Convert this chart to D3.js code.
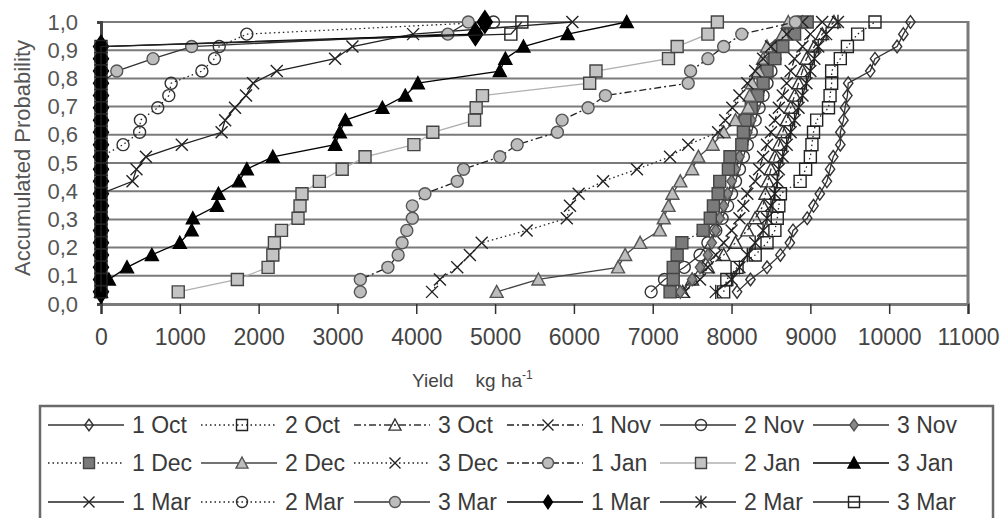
<!DOCTYPE html>
<html><head><meta charset="utf-8">
<script src="https://cdn.jsdelivr.net/npm/d3@7"></script>
<style>body{margin:0;background:#fff;} svg{display:block;font-family:"Liberation Sans",Arial,sans-serif;}</style>
</head><body><svg id="c" width="1008" height="518"></svg>
<script>
// ---------- data ----------
const categories = ["1 Oct","2 Oct","3 Oct","1 Nov","2 Nov","3 Nov","1 Dec","2 Dec","3 Dec","1 Jan","2 Jan","3 Jan","1 Mar","2 Mar","3 Mar","1 Mar","2 Mar","3 Mar"];
const probabilities = [0.043,0.087,0.130,0.174,0.217,0.261,0.304,0.348,0.391,0.435,0.478,0.522,0.565,0.609,0.652,0.696,0.739,0.783,0.826,0.870,0.913,0.957,1.000];
const xTicks = [0,1000,2000,3000,4000,5000,6000,7000,8000,9000,10000,11000];
const yTicks = [0,0.1,0.2,0.3,0.4,0.5,0.6,0.7,0.8,0.9,1.0];

const yield1Oct = [8070,8240,8450,8620,8740,8780,8960,9040,9120,9210,9250,9290,9380,9380,9420,9440,9470,9480,9760,9820,10100,10180,10270];
const yield2Oct = [7900,7940,8070,8300,8450,8550,8580,8600,8620,8870,8940,9000,9020,9040,9080,9230,9250,9270,9270,9380,9470,9600,9820];
const yield3Oct = [7380,7500,7700,7900,8050,8200,8300,8400,8430,8460,8500,8550,8600,8650,8700,8750,8800,8850,8900,8950,9050,9150,9300];
const yield1Nov = [7400,7600,7700,7800,7900,8000,8100,8150,8200,8300,8350,8400,8450,8500,8550,8600,8650,8700,8750,8800,8900,9000,9150];
const yield2Nov = [6980,7150,7400,7600,7700,7800,7880,7950,8000,8050,8100,8150,8200,8250,8300,8350,8400,8450,8500,8550,8600,8700,8850];
const yield3Nov = [7350,7500,7600,7700,7750,7800,7850,7900,7950,8000,8050,8100,8150,8200,8250,8300,8350,8400,8450,8500,8550,8700,8900];
const yield1Dec = [7220,7260,7260,7310,7370,7640,7730,7770,7830,7850,7960,7980,8130,8150,8170,8250,8330,8400,8450,8550,8650,8800,8960];
const yield2Dec = [5020,5550,6560,6650,6840,7090,7140,7200,7250,7350,7500,7580,7760,7900,8050,8210,8230,8260,8340,8400,8450,8650,8720];
const yield3Dec = [4200,4300,4520,4680,4830,5400,5910,5950,6060,6370,6800,7220,7450,7830,7920,8010,8100,8200,8300,8400,8500,8700,8900];
const yield1Jan = [3290,3290,3640,3770,3820,3880,3950,3950,4110,4520,4600,5060,5280,5790,5850,6180,6400,7450,7480,7700,7900,8130,8810];
const yield2Jan = [980,1730,2120,2180,2200,2290,2500,2525,2550,2770,3060,3350,3970,4210,4740,4760,4840,6200,6280,7200,7310,7700,7820];
const yield3Jan = [0,100,330,645,1000,1150,1165,1470,1490,1750,1850,2180,2970,3030,3100,3570,3860,4020,5060,5130,5360,5920,6670];
const yield1Mar = [0,0,0,0,0,0,0,0,0,400,450,570,1025,1530,1575,1700,1840,1930,2230,2970,3190,3960,5980];
const yield2Mar = [0,0,0,0,0,0,0,0,0,0,0,0,280,490,500,720,860,890,1280,1440,1500,1850,4980];
const yield3Mar = [0,0,0,0,0,0,0,0,0,0,0,0,0,0,0,0,0,0,200,660,1150,4400,4660];
const yield1MarB = [0,0,0,0,0,0,0,0,0,0,0,0,0,0,0,0,0,0,0,0,0,4750,4870];
const yield2MarB = [7800,8000,8100,8200,8300,8400,8450,8500,8550,8580,8600,8650,8700,8750,8800,8850,8900,8950,9000,9050,9100,9200,9350];
const yield3MarB = [0,0,0,0,0,0,0,0,0,0,0,0,0,0,0,0,0,0,0,0,0,5200,5340];

const seriesValues = [yield1Oct,yield2Oct,yield3Oct,yield1Nov,yield2Nov,yield3Nov,yield1Dec,yield2Dec,yield3Dec,yield1Jan,yield2Jan,yield3Jan,yield1Mar,yield2Mar,yield3Mar,yield1MarB,yield2MarB,yield3MarB];

// ---------- styles ----------
const DOT="1.5,3", DASHDOT="7,3,2,3";
const styles = [
 {m:"diamond",fill:"none",stroke:"#333",line:"#333",dash:null},
 {m:"square",fill:"none",stroke:"#222",line:"#222",dash:DOT},
 {m:"triangle",fill:"none",stroke:"#333",line:"#333",dash:DASHDOT},
 {m:"x",fill:"none",stroke:"#222",line:"#222",dash:DASHDOT},
 {m:"circle",fill:"none",stroke:"#333",line:"#333",dash:null},
 {m:"diamond",fill:"#8a8a8a",stroke:"#555",line:"#333",dash:null},
 {m:"square",fill:"#7a7a7a",stroke:"#444",line:"#222",dash:DOT},
 {m:"triangle",fill:"#bdbdbd",stroke:"#555",line:"#444",dash:null},
 {m:"x",fill:"none",stroke:"#222",line:"#222",dash:DOT},
 {m:"circle",fill:"#bdbdbd",stroke:"#555",line:"#222",dash:DASHDOT},
 {m:"square",fill:"#c4c4c4",stroke:"#444",line:"#b0b0b0",dash:null},
 {m:"triangle",fill:"#000",stroke:"#000",line:"#000",dash:null},
 {m:"x",fill:"none",stroke:"#222",line:"#222",dash:null},
 {m:"circle",fill:"none",stroke:"#333",line:"#222",dash:DOT},
 {m:"circle",fill:"#bdbdbd",stroke:"#555",line:"#333",dash:null},
 {m:"bigdiamond",fill:"#000",stroke:"#000",line:"#000",dash:null},
 {m:"star",fill:"none",stroke:"#222",line:"#222",dash:null},
 {m:"square",fill:"none",stroke:"#222",line:"#222",dash:null}
];

function markerPath(t, s){
  const h=s/2;
  switch(t){
    case "circle": return d3.symbol(d3.symbolCircle, Math.PI*h*h)();
    case "square": return `M${-h},${-h}H${h}V${h}H${-h}Z`;
    case "triangle": return `M0,${-h}L${h},${h*0.85}L${-h},${h*0.85}Z`;
    case "diamond": return `M0,${-h*1.15}L${h*0.85},0L0,${h*1.15}L${-h*0.85},0Z`;
    case "bigdiamond": return `M0,${-h*1.5}L${h},0L0,${h*1.5}L${-h},0Z`;
    case "x": return `M${-h},${-h}L${h},${h}M${-h},${h}L${h},${-h}`;
    case "star": return `M${-h},${-h}L${h},${h}M${-h},${h}L${h},${-h}M0,${-h*1.2}V${h*1.2}`;
  }
}
const msize = {circle:12,square:12,triangle:13,diamond:11,bigdiamond:15,x:12,star:12};

// ---------- layout ----------
const svg = d3.select("#c");
const x = d3.scaleLinear().domain([0,11000]).range([101,968]);
const y = d3.scaleLinear().domain([0,1]).range([304,22]);

// gridlines
svg.append("g").selectAll("line").data(yTicks.filter(d=>d>0)).join("line")
  .attr("x1",x(0)).attr("x2",x(11000)).attr("y1",d=>y(d)).attr("y2",d=>y(d))
  .attr("stroke","#7a7a7a").attr("stroke-width",2);
// right border
svg.append("line").attr("x1",x(11000)).attr("x2",x(11000)).attr("y1",y(1)-1).attr("y2",y(0))
  .attr("stroke","#7a7a7a").attr("stroke-width",3);

// x axis
const xAxis = d3.axisBottom(x).tickValues(xTicks).tickSize(10).tickFormat(d3.format("d"));
const gx = svg.append("g").attr("transform",`translate(0,${y(0)})`).call(xAxis);
gx.select(".domain").attr("stroke","#7a7a7a").attr("stroke-width",3);
gx.selectAll(".tick line").attr("stroke","#333").attr("stroke-width",1.5);
gx.selectAll(".tick text").attr("font-size",23).attr("fill","#444").attr("y",41).attr("dy",null)
  .attr("font-family","'Liberation Sans',Arial,sans-serif");

// y axis
const yAxis = d3.axisLeft(y).tickValues(yTicks).tickSize(4).tickFormat(d=>d3.format(".1f")(d).replace(".",","));
const gy = svg.append("g").attr("transform",`translate(${x(0)},0)`).call(yAxis);
gy.select(".domain").attr("stroke","#444").attr("stroke-width",3);
gy.selectAll(".tick line").attr("stroke","#444");
gy.selectAll(".tick text").attr("font-size",22).attr("fill","#555").attr("x",-23)
  .attr("font-family","'Liberation Sans',Arial,sans-serif");

// series
const line = d3.line().x(d=>x(d[0])).y(d=>y(d[1]));
const plot = svg.append("g");
seriesValues.forEach((vals,i)=>{
  const st = styles[i];
  const pts = vals.map((v,k)=>[v,probabilities[k]]);
  const g = plot.append("g");
  g.append("path").attr("d",line(pts)).attr("fill","none").attr("stroke",st.line)
    .attr("stroke-width",1.3).attr("stroke-dasharray",st.dash);
  g.selectAll("path.m").data(pts).join("path").attr("class","m")
    .attr("transform",d=>`translate(${x(d[0])},${y(d[1])})`)
    .attr("d",markerPath(st.m,msize[st.m]))
    .attr("fill",st.fill).attr("stroke",st.stroke).attr("stroke-width",1.4);
});

// axis titles
svg.append("text").attr("transform",`translate(30,158) rotate(-90)`).attr("text-anchor","middle")
  .attr("font-size",22).attr("fill","#555").text("Accumulated Probability");
const xt = svg.append("text").attr("x",412).attr("y",387).attr("font-size",19).attr("fill","#444");
xt.append("tspan").text("Yield");
xt.append("tspan").attr("dx",22).text("kg ha");
xt.append("tspan").attr("dy",-8).attr("font-size",12).text("-1");

// legend
const lg = svg.append("g");
lg.append("rect").attr("x",40).attr("y",406).attr("width",953).attr("height",125)
  .attr("fill","none").attr("stroke","#6a6a6a").attr("stroke-width",2.5);
const colX = [132,285,438,591,744,897], rowY=[425,463,502];
const legendSize = {circle:11,square:11,triangle:12,diamond:10,bigdiamond:9,x:11,star:11};
categories.forEach((c,i)=>{
  const st=styles[i], cx=colX[i%6], cy=rowY[Math.floor(i/6)];
  const g=lg.append("g");
  g.append("line").attr("x1",cx-84).attr("x2",cx-8).attr("y1",cy).attr("y2",cy)
    .attr("stroke",st.line).attr("stroke-width",1.5).attr("stroke-dasharray",st.dash);
  g.append("path").attr("transform",`translate(${cx-43},${cy})`).attr("d",markerPath(st.m,legendSize[st.m]))
    .attr("fill",st.fill).attr("stroke",st.stroke).attr("stroke-width",1.4);
  g.append("text").attr("x",cx).attr("y",cy).attr("dy","0.36em").attr("font-size",23).attr("fill","#3a3a3a").text(c);
});
</script></body></html>
